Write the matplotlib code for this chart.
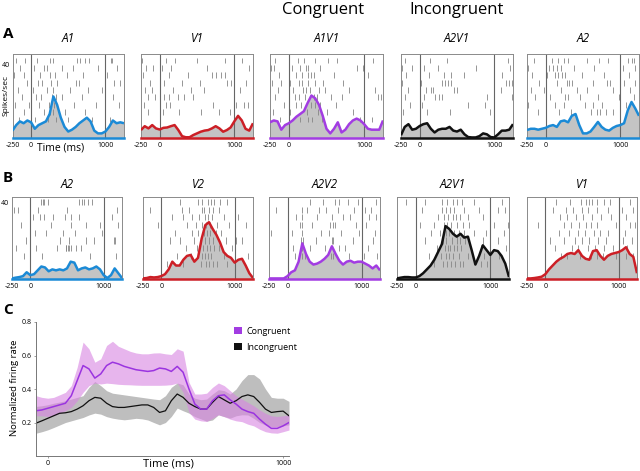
import numpy as np
import matplotlib
matplotlib.use("Agg")
import matplotlib.pyplot as plt
from matplotlib.patches import Patch

plt.rcParams['font.family'] = ['Open Sans', 'DejaVu Sans']

# PSTH bins (ms) for the raster panels
bins = np.arange(-250, 1251, 50)

a_titles = ['A1', 'V1', 'A1V1', 'A2V1', 'A2']
b_titles = ['A2', 'V2', 'A2V2', 'A2V1', 'V1']
a_colors = ['#1b8ad6', '#cc1f26', '#a23ce2', '#111111', '#1b8ad6']
b_colors = ['#1b8ad6', '#cc1f26', '#a23ce2', '#111111', '#cc1f26']

# spikes/sec, row A
rate_a1 = [4, 7, 9, 8, 9.5, 8.5, 5, 7, 8, 9,
           13, 22.5, 18, 11, 6, 3.5, 4.5, 6, 8, 9.5,
           11, 9, 4, 2.5, 2.5, 3.5, 6, 9.5, 8, 8.5,
           8]
rate_v1 = [4.3, 6.4, 5.2, 7, 5.2, 4.6, 5.5, 5.7, 6.4, 7,
           4.3, 1, 0.4, 0.4, 1.6, 2.5, 3.4, 4, 4.3, 5.2,
           6.4, 5.2, 3.4, 4.3, 5.7, 9, 12, 9.5, 5, 4,
           8]
rate_a1v1 = [8.5, 9.5, 9, 4.5, 7, 8, 9.5, 11.5, 13, 14.5,
             19, 23, 21.5, 18, 12, 5, 2.5, 5, 8.5, 3,
             4.5, 7.5, 9.5, 10.5, 9.5, 7.5, 5, 4.5, 4.5, 4.5,
             9.5]
rate_a2v1 = [1.5, 6, 7.5, 4.5, 5, 6.5, 7.5, 8, 5, 3,
             4.5, 5, 5, 6, 4, 3.5, 4.5, 2, 0.5, 0.3,
             0.3, 1, 2.5, 2, 0.5, 0.3, 2, 4, 4, 4.5,
             7.5]
rate_a2 = [4.3, 5, 5, 4.5, 5, 5.5, 6.5, 7, 6, 9,
           9.5, 8.5, 12, 13, 7, 2.5, 2.5, 3.5, 6, 8.7,
           6, 4.5, 4, 5.5, 6.5, 7, 8, 15, 19.5, 16,
           12]

# spikes/sec, row B
rate_b_a2 = [0.3, 0.7, 1, 1.5, 3.5, 2, 2.5, 4.5, 6.5, 6,
             4, 5, 4.5, 5, 4.5, 5.5, 9, 8.5, 4.5, 5.5,
             6, 5, 5.5, 6.5, 5, 2, 0.5, 2, 5.5, 3,
             0.5]
rate_b_v2 = [0.3, 0.5, 1, 0.8, 1, 1.5, 2.5, 5, 9, 7,
             7, 10, 12, 12.5, 9, 11, 21, 28, 29.5, 26,
             23, 19, 14, 12, 11, 8.5, 10, 10.5, 7, 3,
             0.5]
rate_b_a2v2 = [0.3, 0.3, 0.3, 0.3, 0.3, 1.5, 3.5, 4.5, 9, 18.5,
               13, 9, 7.5, 8, 9, 10.5, 12.5, 17, 13, 9.5,
               7.5, 9, 9.5, 8.5, 9, 9, 8, 7, 5.5, 7,
               4.5]
rate_b_a2v1 = [0.3, 0.7, 1, 1, 0.8, 0.8, 1.5, 3, 5, 7,
               10, 14, 18, 27.5, 26, 23.5, 22, 23.5, 21.5, 22,
               15, 7.5, 12, 17.5, 15, 12.5, 15, 14.5, 12, 8,
               1]
rate_b_v1 = [0.3, 0.3, 0.5, 0.8, 1.2, 2.5, 5, 7, 9, 10.5,
             11.5, 13, 13.5, 13, 15, 12, 10.5, 10, 14.5, 15,
             12, 10, 12, 13, 13.5, 14, 15, 16.5, 13, 11.5,
             3]

# spike times (ms), one list per trial
spk_a1 = [[-200, -80, 75, 260, 300, 620, 660, 730, 780, 1070, 1090],
          [-150, 40, 180, 220, 410, 560, 900, 1150],
          [-230, -100, 120, 250, 320, 480, 700, 1020],
          [-60, 90, 150, 270, 350, 600, 640, 1120, 1200],
          [-180, 20, 210, 300, 520, 760, 950],
          [-120, 60, 140, 280, 330, 420, 680, 1100],
          [-210, -30, 100, 240, 310, 580, 870, 1180],
          [-90, 170, 260, 290, 450, 720, 990],
          [-160, 50, 230, 340, 500, 820, 1060]]
spk_v1 = [[-240, 80, 200, 500, 870, 1100],
          [-180, -90, 30, 150, 640, 1000, 1200],
          [-220, 120, 380, 700, 760, 820, 880],
          [-130, 60, 300, 540, 900, 960, 1150],
          [-200, -100, 180, 420, 600, 1080],
          [-150, -60, 0, 60, 120, 250, 330, 450],
          [-210, 90, 140, 720, 1020, 1130, 1180],
          [-160, 40, 260, 560, 800, 940]]
spk_a1v1 = [[-180, 120, 200, 350, 520, 640, 1120],
            [-240, -200, 40, 150, 230, 260, 420, 900, 980],
            [-130, 100, 170, 250, 290, 330, 600, 1050],
            [-220, -100, 20, 130, 180, 260, 350, 460, 720],
            [-250, -150, 60, 190, 230, 280, 400, 480, 800, 1150],
            [-190, 80, 140, 210, 330, 370, 560, 700, 1180, 1220],
            [-60, 100, 160, 300, 350, 420, 620, 1000],
            [-210, 20, 240, 390, 510, 850],
            [-120, 150, 260, 310, 440, 940, 1100]]
spk_a2v1 = [[-200, 140, 360, 1180],
            [-230, -100, 60, 240, 760, 1210],
            [-180, 120, 320, 420, 600, 1100],
            [-240, 20, 300, 340, 380, 420, 1150, 1200, 1230],
            [-150, 80, 150, 180, 460, 500, 1090],
            [-200, 60, 200, 260, 300, 900, 1240],
            [-130, 30, 650, 880],
            [-220, 100, 400, 940]]
spk_a2 = [[-150, 80, 160, 250, 300, 560, 720, 840, 1100, 1150, 1180],
          [-230, 40, 100, 150, 210, 380, 650, 1030, 1200],
          [-180, 20, 120, 170, 220, 260, 490, 780, 1120],
          [-90, 150, 280, 310, 350, 640, 820, 860, 1050, 1200],
          [-200, -20, 200, 420, 560, 900, 1130],
          [-140, 60, 260, 300, 460, 700, 980, 1180],
          [-240, 130, 240, 530, 640, 760, 1080],
          [-100, 180, 340, 610, 690, 730, 810, 900]]
spk_b_a2 = [[-10, 140, 170, 190, 240, 660, 700, 730, 780, 840],
            [-220, -170, 100, 500, 1180],
            [40, 130, 180, 310, 470, 550, 660, 1120],
            [-130, 280, 560, 760, 950, 1200],
            [60, 210, 450, 610, 980],
            [-60, 400, 530, 760, 870, 1140, 1150],
            [-200, 80, 370, 480, 490, 510, 530, 560, 620, 690],
            [-90, 160, 820, 1170]]
spk_b_v2 = [[250, 500, 550, 640, 680, 720, 800, 900, 1000],
            [-160, 280, 380, 560, 580, 650, 700, 780],
            [150, 300, 420, 520, 600, 640, 690, 860, 1050],
            [-50, 350, 470, 560, 610, 660, 760, 920, 1150],
            [180, 420, 500, 580, 620, 660, 740, 820],
            [120, 260, 450, 540, 600, 650, 700, 880, 1020, 1100],
            [330, 490, 570, 620, 670, 720, 790, 960],
            [220, 400, 560, 600, 640, 680, 850, 1180],
            [80, 300, 540, 610, 650, 710, 760, 900]]
spk_b_a2v2 = [[300, 480, 640, 700, 820, 950, 1200],
              [-150, 190, 260, 420, 520, 680, 900, 1050, 1130],
              [120, 200, 400, 600, 750, 850, 1100, 1200],
              [170, 190, 330, 580, 610, 640, 920, 1060],
              [-220, 60, 200, 450, 560, 720, 960, 1180],
              [180, 210, 380, 600, 620, 880, 1000, 1150],
              [70, 190, 300, 500, 700, 780, 1090],
              [100, 200, 230, 590, 610, 830, 1030, 1210]]
spk_b_a2v1 = [[-130, 130, 350, 420, 500, 560, 620, 780, 1000, 1150],
              [80, 350, 400, 460, 520, 650, 850, 1100, 1200],
              [300, 380, 430, 500, 540, 600, 700, 900, 1000],
              [60, 250, 380, 420, 470, 560, 640, 720, 1050, 1240],
              [200, 330, 400, 440, 510, 580, 650, 780, 940, 1180],
              [120, 360, 410, 480, 550, 600, 660, 900, 1100],
              [280, 390, 430, 460, 520, 560, 610, 870, 1000, 1210],
              [180, 340, 400, 450, 500, 580, 700, 920, 1120],
              [240, 370, 420, 470, 530, 590, 640, 880, 960]]
spk_b_v1 = [[150, 330, 480, 560, 600, 640, 700, 800, 880, 1000, 1150],
            [100, 280, 380, 500, 580, 700, 850, 1050, 1200],
            [200, 300, 420, 520, 640, 760, 900, 1100],
            [-100, 250, 350, 460, 560, 620, 700, 960, 1150, 1220],
            [180, 320, 450, 540, 660, 740, 860, 1000, 1080],
            [60, 260, 410, 500, 600, 720, 830, 1060, 1180],
            [130, 360, 440, 580, 680, 800, 920, 1120],
            [220, 300, 470, 620, 700, 780, 960, 1100, 1200]]

rates_a = [rate_a1, rate_v1, rate_a1v1, rate_a2v1, rate_a2]
rates_b = [rate_b_a2, rate_b_v2, rate_b_a2v2, rate_b_a2v1, rate_b_v1]
spikes_a = [spk_a1, spk_v1, spk_a1v1, spk_a2v1, spk_a2]
spikes_b = [spk_b_a2, spk_b_v2, spk_b_a2v2, spk_b_a2v1, spk_b_v1]

# panel C: normalized firing rate, mean and band
t_c = np.arange(-50, 1026, 25)
cong_mean = [0.27, 0.275, 0.285, 0.295, 0.305, 0.315, 0.36, 0.45, 0.54, 0.52,
             0.465, 0.49, 0.54, 0.56, 0.55, 0.535, 0.525, 0.515, 0.51, 0.505,
             0.51, 0.525, 0.52, 0.505, 0.535, 0.50, 0.40, 0.31, 0.28, 0.28,
             0.33, 0.36, 0.365, 0.335, 0.31, 0.28, 0.265, 0.255, 0.22, 0.19,
             0.165, 0.165, 0.18, 0.20]
cong_hi = [0.36, 0.35, 0.345, 0.35, 0.365, 0.38, 0.42, 0.53, 0.68, 0.64,
           0.56, 0.58, 0.66, 0.685, 0.655, 0.64, 0.625, 0.615, 0.61, 0.61,
           0.615, 0.616, 0.61, 0.606, 0.64, 0.626, 0.44, 0.37, 0.37, 0.375,
           0.41, 0.436, 0.42, 0.39, 0.36, 0.34, 0.32, 0.30, 0.275, 0.255,
           0.24, 0.236, 0.24, 0.246]
cong_lo = [0.24, 0.24, 0.236, 0.24, 0.255, 0.27, 0.29, 0.33, 0.38, 0.42,
           0.435, 0.43, 0.435, 0.432, 0.428, 0.426, 0.425, 0.423, 0.422, 0.422,
           0.422, 0.422, 0.423, 0.426, 0.435, 0.38, 0.26, 0.22, 0.21, 0.206,
           0.225, 0.246, 0.235, 0.22, 0.21, 0.205, 0.19, 0.18, 0.16, 0.145,
           0.138, 0.136, 0.145, 0.155]
incong_mean = [0.196, 0.21, 0.225, 0.24, 0.255, 0.258, 0.265, 0.28, 0.30, 0.33,
               0.35, 0.345, 0.315, 0.295, 0.29, 0.29, 0.295, 0.30, 0.305, 0.305,
               0.29, 0.26, 0.27, 0.33, 0.37, 0.35, 0.315, 0.295, 0.28, 0.28,
               0.32, 0.355, 0.335, 0.315, 0.33, 0.355, 0.365, 0.355, 0.32, 0.28,
               0.26, 0.265, 0.268, 0.24]
incong_hi = [0.296, 0.30, 0.306, 0.315, 0.322, 0.33, 0.34, 0.35, 0.36, 0.41,
             0.445, 0.42, 0.39, 0.375, 0.37, 0.365, 0.36, 0.355, 0.35, 0.345,
             0.34, 0.336, 0.36, 0.41, 0.436, 0.425, 0.37, 0.345, 0.336, 0.34,
             0.37, 0.396, 0.39, 0.37, 0.40, 0.45, 0.486, 0.486, 0.46, 0.40,
             0.35, 0.345, 0.345, 0.326]
incong_lo = [0.136, 0.145, 0.156, 0.17, 0.185, 0.20, 0.21, 0.22, 0.23, 0.245,
             0.256, 0.25, 0.235, 0.226, 0.22, 0.216, 0.22, 0.225, 0.222, 0.215,
             0.20, 0.186, 0.20, 0.236, 0.286, 0.27, 0.256, 0.235, 0.222, 0.208,
             0.215, 0.246, 0.235, 0.226, 0.24, 0.246, 0.245, 0.225, 0.20, 0.185,
             0.176, 0.176, 0.18, 0.186]

W, H = 640.0, 471.0
fig = plt.figure(figsize=(6.4, 4.71), dpi=100)


def px_axes(x0, y0, x1, y1):
    # pixel box (top-left origin) -> figure axes
    return fig.add_axes([x0 / W, 1 - y1 / H, (x1 - x0) / W, (y1 - y0) / H])


def draw_panel(ax, rate, spikes, color, ymax, first, row_top):
    ax.fill_between(bins, 0, rate, color='#c4c4c4', lw=0, zorder=1)
    offs = [row_top - 4 * i for i in range(len(spikes))]
    ax.eventplot(spikes, lineoffsets=offs, linelengths=3.2,
                 colors='#858585', linewidths=0.6, zorder=2)
    ax.axvline(0, color='#666666', lw=0.8, zorder=2)
    ax.axvline(1000, color='#666666', lw=0.8, zorder=2)
    ax.plot(bins, rate, color=color, lw=1.8, zorder=3,
            solid_capstyle='butt')
    ax.set_xlim(-250, 1250)
    ax.set_ylim(0, ymax)
    for s in ['top', 'left', 'right']:
        ax.spines[s].set_color('#8a8a8a')
        ax.spines[s].set_linewidth(0.7)
    ax.spines['bottom'].set_color(color)
    ax.spines['bottom'].set_linewidth(1.8)
    ax.set_xticks([-250, 0, 1000])
    ax.set_xticklabels(['-250', '0', '1000'])
    ax.tick_params(axis='x', length=0, labelsize=5, pad=3)
    if first:
        ax.set_yticks([40])
        ax.tick_params(axis='y', length=0, labelsize=5, pad=2)
    else:
        ax.set_yticks([])


a_left = [12.5, 141, 270, 401, 527]
a_right = [124, 253, 383, 513, 639]
b_left = [12, 143, 269, 397, 527]
b_right = [122, 253, 380, 509, 637]

for i in range(5):
    ax = px_axes(a_left[i], 54, a_right[i], 138)
    draw_panel(ax, rates_a[i], spikes_a[i], a_colors[i], 45.5, i == 0, 42)
    fig.text((a_left[i] + a_right[i]) / 2 / W, 1 - 39 / H, a_titles[i],
             ha='center', va='center', fontsize=8.5, style='italic')
    if i == 0:
        ax.text(400, -0.12, 'Time (ms)', transform=ax.get_xaxis_transform(),
                ha='center', va='center', fontsize=7.5)

fig.text(6 / W, 1 - 96 / H, 'Spikes/sec', rotation=90, ha='center',
         va='center', fontsize=6)

for i in range(5):
    ax = px_axes(b_left[i], 197, b_right[i], 279)
    draw_panel(ax, rates_b[i], spikes_b[i], b_colors[i], 42.6, i == 0, 40)
    fig.text((b_left[i] + b_right[i]) / 2 / W, 1 - 185 / H, b_titles[i],
             ha='center', va='center', fontsize=8.5, style='italic')

fig.text(323 / W, 1 - 10 / H, 'Congruent', ha='center', va='center', fontsize=12)
fig.text(457 / W, 1 - 10 / H, 'Incongruent', ha='center', va='center', fontsize=12)
fig.text(3 / W, 1 - 34 / H, 'A', ha='left', va='center', fontsize=11, weight='bold')
fig.text(3 / W, 1 - 178 / H, 'B', ha='left', va='center', fontsize=11, weight='bold')
fig.text(3 / W, 1 - 310 / H, 'C', ha='left', va='center', fontsize=11, weight='bold')

# panel C
axc = px_axes(36, 322, 289, 456)
axc.fill_between(t_c, incong_lo, incong_hi, color='#a8a8a8', alpha=0.75, lw=0)
axc.fill_between(t_c, cong_lo, cong_hi, color='#d884e2', alpha=0.6, lw=0)
axc.plot(t_c, incong_mean, color='#111111', lw=0.9)
axc.plot(t_c, cong_mean, color='#9b34e0', lw=1.1)
axc.set_xlim(-50, 1025)
axc.set_ylim(0, 0.8)
axc.spines['top'].set_visible(False)
axc.spines['right'].set_visible(False)
for s in ['left', 'bottom']:
    axc.spines[s].set_color('#777777')
    axc.spines[s].set_linewidth(0.7)
axc.set_xticks([0, 1000])
axc.set_yticks([0.2, 0.4, 0.6, 0.8])
axc.set_yticklabels(['0.2', '0.4', '0.6', '0.8'])
axc.tick_params(labelsize=5, length=1.5, width=0.5, pad=1.5, color='#777777')
fig.text(15 / W, 1 - 388 / H, 'Normalized firing rate', rotation=90,
         ha='center', va='center', fontsize=6.8)
fig.text(168 / W, 1 - 464 / H, 'Time (ms)', ha='center', va='center',
         fontsize=8)
handles = [Patch(facecolor='#a23ce2', label='Congruent'),
           Patch(facecolor='#111111', label='Incongruent')]
axc.legend(handles=handles, loc='upper left', bbox_to_anchor=(0.77, 0.99),
           frameon=False, fontsize=6.5, handlelength=0.8, handleheight=0.8,
           handletextpad=0.5, labelspacing=0.75, borderaxespad=0)

fig.savefig('out.png', dpi=100)
